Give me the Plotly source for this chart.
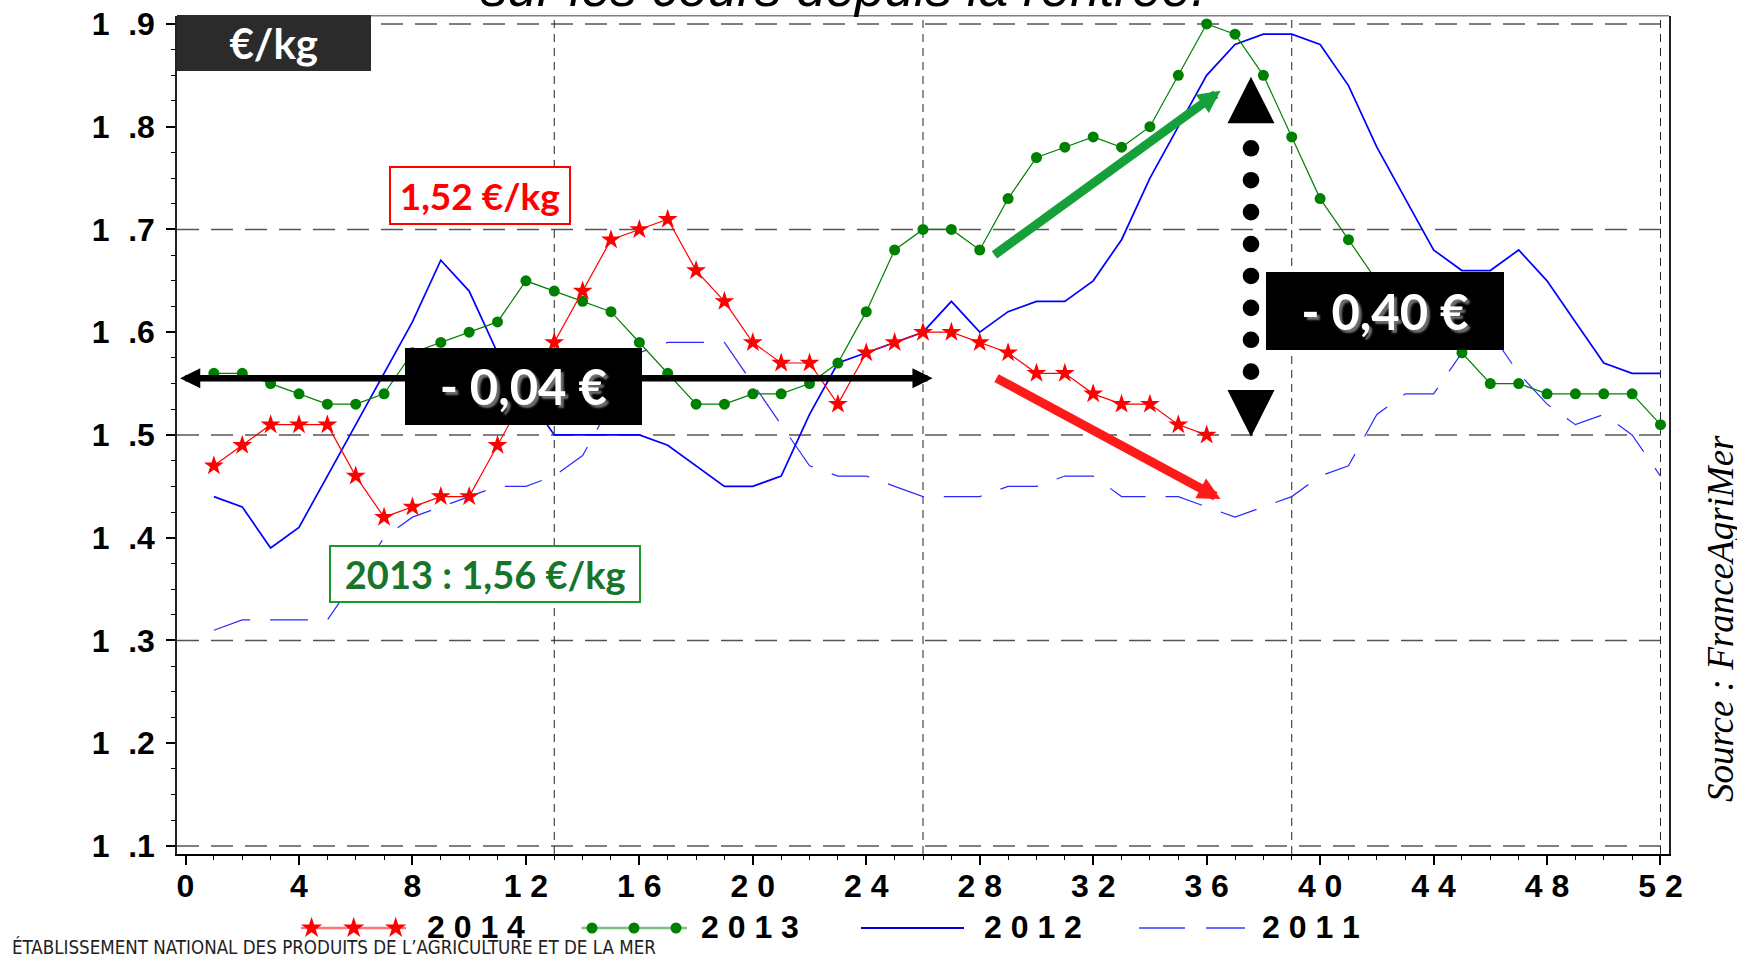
import plotly.graph_objects as go

# ---------------------------------------------------------------------------
# Weekly prices (€/kg)
# ---------------------------------------------------------------------------
weeks_2014 = list(range(1, 37))
price_2014 = [1.47, 1.49, 1.51, 1.51, 1.51, 1.46, 1.42, 1.43, 1.44, 1.44,
              1.49, 1.54, 1.59, 1.64, 1.69, 1.70, 1.71, 1.66, 1.63, 1.59,
              1.57, 1.57, 1.53, 1.58, 1.59, 1.60, 1.60, 1.59, 1.58, 1.56,
              1.56, 1.54, 1.53, 1.53, 1.51, 1.50]

weeks = list(range(1, 53))
price_2013 = [1.56, 1.56, 1.55, 1.54, 1.53, 1.53, 1.54, 1.58, 1.59, 1.60,
              1.61, 1.65, 1.64, 1.63, 1.62, 1.59, 1.56, 1.53, 1.53, 1.54,
              1.54, 1.55, 1.57, 1.62, 1.68, 1.70, 1.70, 1.68, 1.73, 1.77,
              1.78, 1.79, 1.78, 1.80, 1.85, 1.90, 1.89, 1.85, 1.79, 1.73,
              1.69, 1.65, 1.62, 1.60, 1.58, 1.55, 1.55, 1.54, 1.54, 1.54,
              1.54, 1.51]
price_2012 = [1.44, 1.43, 1.39, 1.41, 1.46, 1.51, 1.56, 1.61, 1.67, 1.64,
              1.58, 1.54, 1.50, 1.50, 1.50, 1.50, 1.49, 1.47, 1.45, 1.45,
              1.46, 1.52, 1.57, 1.58, 1.59, 1.60, 1.63, 1.60, 1.62, 1.63,
              1.63, 1.65, 1.69, 1.75, 1.80, 1.85, 1.88, 1.89, 1.89, 1.88,
              1.84, 1.78, 1.73, 1.68, 1.66, 1.66, 1.68, 1.65, 1.61, 1.57,
              1.56, 1.56]
price_2011 = [1.31, 1.32, 1.32, 1.32, 1.32, 1.36, 1.40, 1.42, 1.43, 1.44,
              1.45, 1.45, 1.46, 1.48, 1.53, 1.58, 1.59, 1.59, 1.59, 1.55,
              1.51, 1.47, 1.46, 1.46, 1.45, 1.44, 1.44, 1.44, 1.45, 1.45,
              1.46, 1.46, 1.44, 1.44, 1.44, 1.43, 1.42, 1.43, 1.44, 1.46,
              1.47, 1.52, 1.54, 1.54, 1.58, 1.60, 1.56, 1.53, 1.51, 1.52,
              1.50, 1.46]

series_names = ["2014", "2013", "2012", "2011"]

x_tick_vals = list(range(0, 53, 4))
x_tick_text = [" ".join(str(v)) for v in x_tick_vals]
y_tick_vals = [round(1.1 + 0.1 * i, 1) for i in range(9)]
y_tick_text = ["1\u2002\u200a." + f"{v:.1f}"[-1] for v in y_tick_vals]
grid_levels = [1.1, 1.3, 1.5, 1.7, 1.9]
quarter_weeks = [13, 26, 39, 52]

# ---------------------------------------------------------------------------
# Page geometry (pixels)
# ---------------------------------------------------------------------------
W, H = 1737, 956
PLOT_L, PLOT_R, PLOT_T, PLOT_B = 177, 1669, 15.7, 854
X_RANGE = [-0.3, 52.3]
Y_RANGE = [1.0922, 1.908]


def px(x):
    return x / W


def py(y):
    return 1 - y / H


RED = "#ff0000"
GREEN = "#008000"
BLUE = "#0000ff"
BLUE_DASH = "#2a2aff"
TICK_FONT = dict(family="Liberation Sans, Arial, sans-serif", size=32,
                 weight="bold", color="black")
BOX_FONT = "Lato, Carlito, Liberation Sans, sans-serif"

fig = go.Figure()

# ---------------------------------------------------------------------------
# Price curves
# ---------------------------------------------------------------------------
fig.add_trace(go.Scatter(x=weeks, y=price_2011, mode="lines", name="2011",
                         line=dict(color=BLUE_DASH, width=1.2, dash="38px,20px")))
fig.add_trace(go.Scatter(x=weeks, y=price_2012, mode="lines", name="2012",
                         line=dict(color=BLUE, width=1.7)))
fig.add_trace(go.Scatter(x=weeks, y=price_2013, mode="lines+markers", name="2013",
                         line=dict(color=GREEN, width=1.2),
                         marker=dict(symbol="circle", size=11, color=GREEN)))
fig.add_trace(go.Scatter(x=weeks_2014, y=price_2014, mode="lines+markers", name="2014",
                         line=dict(color=RED, width=1.2),
                         marker=dict(symbol="star", size=15, color=RED)))

# ---------------------------------------------------------------------------
# Legend row drawn on a hidden strip axis under the chart
# ---------------------------------------------------------------------------
LEG = dict(xaxis="x2", yaxis="y2", hoverinfo="skip", showlegend=False)
fig.add_trace(go.Scatter(x=[301, 406], y=[0.5, 0.5], mode="lines",
                         line=dict(color="rgba(255,0,0,0.55)", width=2.5), **LEG))
fig.add_trace(go.Scatter(x=[311.6, 353.7, 395.7], y=[0.5] * 3, mode="markers",
                         marker=dict(symbol="star", size=16, color=RED), **LEG))
fig.add_trace(go.Scatter(x=[581.6, 687], y=[0.5, 0.5], mode="lines",
                         line=dict(color="rgba(0,128,0,0.5)", width=2.5), **LEG))
fig.add_trace(go.Scatter(x=[592, 634, 676], y=[0.5] * 3, mode="markers",
                         marker=dict(symbol="circle", size=11, color=GREEN), **LEG))
fig.add_trace(go.Scatter(x=[861, 964], y=[0.5, 0.5], mode="lines",
                         line=dict(color="#0000dd", width=2), **LEG))
fig.add_trace(go.Scatter(x=[1139, 1245], y=[0.5, 0.5], mode="lines",
                         line=dict(color="#6a6aff", width=2, dash="46px,21px"), **LEG))

legend_text_x = [425, 699, 982, 1260]

# ---------------------------------------------------------------------------
# Shapes: grid, frame, vertical double arrow
# ---------------------------------------------------------------------------
shapes = []
for lvl in grid_levels:
    shapes.append(dict(type="line", xref="x domain", yref="y", x0=0, x1=1,
                       y0=lvl, y1=lvl, layer="below",
                       line=dict(color="#555555", width=1.5, dash="22px,12px")))
for wk in quarter_weeks:
    shapes.append(dict(type="line", xref="x", yref="y domain", x0=wk, x1=wk,
                       y0=0, y1=1, layer="below",
                       line=dict(color="#222222", width=1, dash="8px,6px")))
shapes.append(dict(type="line", xref="x domain", yref="y domain", x0=0, x1=1,
                   y0=1, y1=1, line=dict(color="#808080", width=1.5)))

# dotted vertical arrow
ARROW_X = 1251
HALF = 23.5
tri_up = (f"M{px(ARROW_X - HALF)},{py(123.3)} L{px(ARROW_X + HALF)},{py(123.3)} "
          f"L{px(ARROW_X)},{py(76.7)} Z")
tri_down = (f"M{px(ARROW_X - HALF)},{py(390)} L{px(ARROW_X + HALF)},{py(390)} "
            f"L{px(ARROW_X)},{py(436.7)} Z")
for path in (tri_up, tri_down):
    shapes.append(dict(type="path", xref="paper", yref="paper", path=path,
                       fillcolor="black", line=dict(width=0)))
R_DOT = 8.3
for i in range(8):
    cy = 148.3 + i * 31.91
    shapes.append(dict(type="circle", xref="paper", yref="paper",
                       x0=px(ARROW_X - R_DOT), x1=px(ARROW_X + R_DOT),
                       y0=py(cy + R_DOT), y1=py(cy - R_DOT),
                       fillcolor="black", line=dict(width=0)))

# ---------------------------------------------------------------------------
# Annotations
# ---------------------------------------------------------------------------
ann = []
ann.append(dict(text="sur les cours depuis la rentrée.", xref="paper", yref="paper",
                x=px(843), y=py(19), xanchor="center", yanchor="bottom", showarrow=False,
                font=dict(family="Liberation Sans, Arial, sans-serif", size=53,
                          style="italic", color="black")))
ann.append(dict(text="Source : FranceAgriMer", xref="paper", yref="paper",
                x=px(1720), y=py(619), xanchor="center", yanchor="middle",
                textangle=-90, showarrow=False,
                font=dict(family="Liberation Serif, Times New Roman, serif", size=37,
                          style="italic", color="black")))
ann.append(dict(text="ÉTABLISSEMENT NATIONAL DES PRODUITS DE L’AGRICULTURE ET DE LA MER",
                xref="paper", yref="paper", x=px(10), y=-4 / H, xanchor="left",
                yanchor="bottom", showarrow=False,
                font=dict(family="Liberation Sans Narrow, DejaVu Sans Condensed, "
                                 "Roboto Condensed, sans-serif", size=18.6, color="#222222")))

for name, lx in zip(series_names, legend_text_x):
    ann.append(dict(text=" ".join(name), xref="paper", yref="paper", x=px(lx),
                    y=py(927), xanchor="left", yanchor="middle", showarrow=False,
                    font=TICK_FONT))


def arrow(tip, tail, color, width, size, both=False):
    d = dict(text="", xref="paper", yref="paper", x=px(tip[0]), y=py(tip[1]),
             axref="pixel", ayref="pixel", ax=tail[0] - tip[0], ay=tail[1] - tip[1],
             showarrow=True, arrowhead=2, arrowsize=size, arrowwidth=width,
             arrowcolor=color, standoff=0)
    if both:
        d.update(arrowside="end+start", startarrowhead=2, startarrowsize=size,
                 startstandoff=0)
    return d


ann.append(arrow((932.6, 378.3), (178.6, 378.3), "black", 6.5, 0.62, both=True))
ann.append(arrow((1220.5, 90.7), (992.9, 256), "#16a03a", 9, 0.5))
ann.append(arrow((1220.5, 499), (995, 377.3), "#ff1a1a", 9, 0.5))


def box(cx, cy, w, h, text, color, size, bg, border=None, bw=0, shadow=None):
    font = dict(family=BOX_FONT, size=size, weight="bold", color=color)
    if shadow:
        font["shadow"] = shadow
    return dict(text=text, xref="paper", yref="paper", x=px(cx), y=py(cy),
                xanchor="center", yanchor="middle", showarrow=False,
                width=w - 2 * bw, height=h - 2 * bw, borderpad=0,
                bgcolor=bg, bordercolor=border or bg, borderwidth=bw, font=font)


ann.append(box(273.75, 43.5, 193.5, 56.4, "€/kg", "white", 42, "#2b2b2b"))
ann.append(box(479.75, 195, 181.5, 58.6, "1,52 €/kg", "#ff0000", 37, "white",
               border="#ff0000", bw=2))
ann.append(box(484.8, 573.5, 312.4, 58.4, "2013 : 1,56 €/kg", "#17752b", 38, "white",
               border="#1a9a2a", bw=2))
ann.append(box(523.3, 386.7, 236.5, 76.7, "- 0,04 €", "white", 49, "black",
               shadow="3px 3px 2px #6e6e6e"))
ann.append(box(1384.9, 310.8, 237.8, 78.3, "- 0,40 €", "white", 49, "black",
               shadow="3px 3px 2px #6e6e6e"))

# ---------------------------------------------------------------------------
# Layout
# ---------------------------------------------------------------------------
fig.update_layout(
    width=W, height=H,
    margin=dict(l=0, r=0, t=0, b=0, autoexpand=False),
    paper_bgcolor="white", plot_bgcolor="white", showlegend=False,
    xaxis=dict(domain=[px(PLOT_L), px(PLOT_R)], range=X_RANGE,
               tickmode="array", tickvals=x_tick_vals, ticktext=x_tick_text,
               ticks="outside", ticklen=9, tickwidth=1.5, tickcolor="black",
               minor=dict(tick0=0, dtick=1, ticks="outside", ticklen=4,
                          tickwidth=1, tickcolor="black"),
               showline=True, linecolor="black", linewidth=1.5,
               showgrid=False, zeroline=False, tickfont=TICK_FONT,
               ticklabelstandoff=-6),
    yaxis=dict(domain=[py(PLOT_B), py(PLOT_T)], range=Y_RANGE,
               tickmode="array", tickvals=y_tick_vals, ticktext=y_tick_text,
               ticks="outside", ticklen=9, tickwidth=1.5, tickcolor="black",
               minor=dict(tick0=1.1, dtick=0.025, ticks="outside", ticklen=4,
                          tickwidth=1, tickcolor="black"),
               showline=True, linecolor="#222222", linewidth=1.5, mirror=True,
               showgrid=False, zeroline=False, tickfont=TICK_FONT,
               ticklabelstandoff=5),
    xaxis2=dict(domain=[0, 1], range=[0, W], visible=False, anchor="y2"),
    yaxis2=dict(domain=[py(946), py(910)], range=[0, 1], visible=False, anchor="x2"),
    shapes=shapes,
    annotations=ann,
)

fig.write_html("out.html")
